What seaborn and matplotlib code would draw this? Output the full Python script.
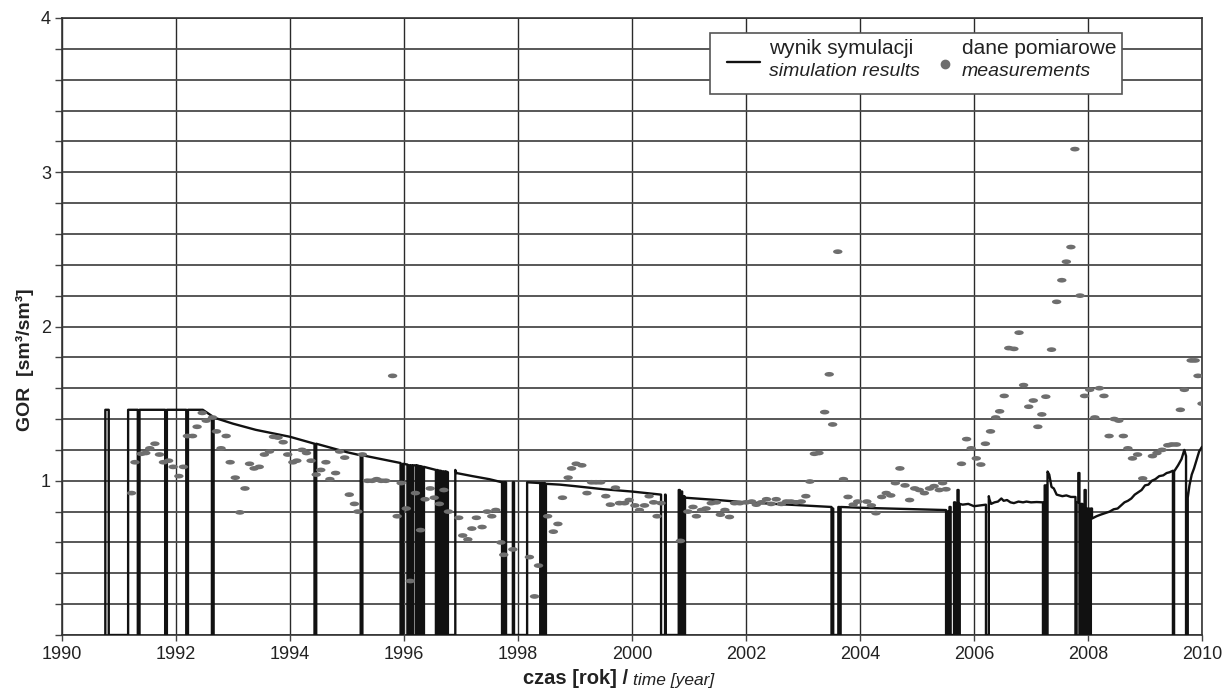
import numpy as np
import matplotlib
matplotlib.use("Agg")
import matplotlib.pyplot as plt
from matplotlib.path import Path
from matplotlib.transforms import Affine2D
from matplotlib.lines import Line2D
from matplotlib.patches import Rectangle
import matplotlib.ticker as mticker
import seaborn as sns

# ---- simulation result: (time, GOR) vertices; shut-ins drop to zero ----
sim_points = [
    (1990.76, 0.0), (1990.76, 1.46), (1990.82, 1.46), (1990.82, 0.0),
    (1991.16, 0.0), (1991.16, 1.46), (1991.33, 1.46), (1991.33, 0.0),
    (1991.36, 0.0), (1991.36, 1.46), (1991.81, 1.46), (1991.81, 0.0),
    (1991.84, 0.0), (1991.84, 1.46), (1992.18, 1.46), (1992.18, 0.0),
    (1992.21, 0.0), (1992.21, 1.46), (1992.47, 1.46), (1992.63, 1.42),
    (1992.63, 0.0), (1992.66, 0.0), (1992.66, 1.41),
    (1993.00, 1.37), (1993.40, 1.33), (1994.00, 1.285), (1994.43, 1.24),
    (1994.43, 0.0), (1994.46, 0.0), (1994.46, 1.24),
    (1995.00, 1.185), (1995.24, 1.165), (1995.24, 0.0), (1995.27, 0.0), (1995.27, 1.165),
    (1995.94, 1.115), (1995.94, 0.0), (1995.98, 0.0), (1995.98, 1.11),
    (1996.06, 1.105), (1996.06, 0.0), (1996.08, 0.0), (1996.08, 1.10),
    (1996.10, 1.10), (1996.10, 0.0), (1996.12, 0.0), (1996.12, 1.10),
    (1996.14, 1.10), (1996.14, 0.0), (1996.16, 0.0), (1996.16, 1.10),
    (1996.21, 1.10), (1996.21, 0.0), (1996.23, 0.0), (1996.23, 1.10),
    (1996.27, 1.095), (1996.27, 0.0), (1996.29, 0.0), (1996.29, 1.095),
    (1996.33, 1.09), (1996.33, 0.0), (1996.35, 0.0), (1996.35, 1.09),
    (1996.56, 1.07), (1996.56, 0.0), (1996.58, 0.0), (1996.58, 1.07),
    (1996.62, 1.065), (1996.62, 0.0), (1996.64, 0.0), (1996.64, 1.065),
    (1996.68, 1.06), (1996.68, 0.0), (1996.70, 0.0), (1996.70, 1.06),
    (1996.72, 1.06), (1996.72, 0.0), (1996.74, 0.0), (1996.74, 1.06),
    (1996.77, 1.055), (1996.77, 0.0), (1996.90, 0.0), (1996.90, 1.07), (1996.92, 1.05),
    (1997.20, 1.03), (1997.50, 1.01), (1997.72, 0.99),
    (1997.72, 0.0), (1997.74, 0.0), (1997.74, 0.99), (1997.76, 0.99), (1997.76, 0.0),
    (1997.78, 0.0), (1997.78, 0.99), (1997.79, 0.99), (1997.79, 0.0),
    (1997.91, 0.0), (1997.91, 0.99), (1997.93, 0.99), (1997.93, 0.0),
    (1998.16, 0.0), (1998.16, 0.99), (1998.39, 0.985), (1998.39, 0.0),
    (1998.41, 0.0), (1998.41, 0.985), (1998.43, 0.985), (1998.43, 0.0),
    (1998.45, 0.0), (1998.45, 0.985), (1998.47, 0.985), (1998.47, 0.0),
    (1998.49, 0.0), (1998.49, 0.98),
    (1998.73, 0.975), (1999.00, 0.965), (1999.50, 0.945), (2000.00, 0.93),
    (2000.51, 0.91), (2000.51, 0.0), (2000.58, 0.0), (2000.58, 0.91),
    (2000.59, 0.91), (2000.59, 0.0),
    (2000.82, 0.0), (2000.82, 0.94), (2000.84, 0.94), (2000.84, 0.0),
    (2000.86, 0.0), (2000.86, 0.93), (2000.88, 0.93), (2000.88, 0.0),
    (2000.90, 0.0), (2000.90, 0.90), (2000.92, 0.90), (2000.92, 0.0),
    (2000.93, 0.0), (2000.93, 0.89),
    (2001.50, 0.875), (2002.00, 0.86), (2002.50, 0.85), (2003.00, 0.84),
    (2003.50, 0.83), (2003.50, 0.0), (2003.52, 0.0), (2003.52, 0.82),
    (2003.53, 0.82), (2003.53, 0.0), (2003.62, 0.0), (2003.62, 0.83),
    (2003.64, 0.83), (2003.64, 0.0), (2003.66, 0.0), (2003.66, 0.83),
    (2004.00, 0.825), (2004.50, 0.82), (2005.00, 0.815), (2005.51, 0.81),
    (2005.51, 0.0), (2005.53, 0.0), (2005.53, 0.80), (2005.55, 0.80),
    (2005.55, 0.0), (2005.57, 0.0), (2005.57, 0.83), (2005.59, 0.83),
    (2005.59, 0.0), (2005.61, 0.0), (2005.61, 0.0),
    (2005.65, 0.0), (2005.65, 0.86), (2005.67, 0.86), (2005.67, 0.0),
    (2005.71, 0.0), (2005.71, 0.94), (2005.73, 0.94), (2005.73, 0.0),
    (2005.75, 0.0), (2005.75, 0.85),
    (2005.80, 0.845), (2005.90, 0.85), (2006.00, 0.835), (2006.10, 0.84),
    (2006.21, 0.845), (2006.21, 0.0), (2006.26, 0.0), (2006.26, 0.90),
    (2006.27, 0.88), (2006.30, 0.85),
    (2006.36, 0.86), (2006.42, 0.865), (2006.48, 0.885), (2006.52, 0.87),
    (2006.58, 0.875), (2006.64, 0.86), (2006.70, 0.855), (2006.78, 0.865),
    (2006.86, 0.86), (2006.92, 0.865), (2007.00, 0.86), (2007.10, 0.862),
    (2007.21, 0.86), (2007.21, 0.0), (2007.24, 0.0), (2007.24, 0.97),
    (2007.26, 0.97), (2007.26, 0.0), (2007.29, 0.0), (2007.29, 1.06),
    (2007.32, 1.04), (2007.36, 0.96), (2007.40, 0.95), (2007.45, 0.91),
    (2007.50, 0.905), (2007.55, 0.90), (2007.62, 0.905), (2007.70, 0.895),
    (2007.78, 0.895), (2007.78, 0.0), (2007.80, 0.0), (2007.80, 0.86),
    (2007.83, 0.86), (2007.83, 1.05), (2007.85, 1.05), (2007.85, 0.0),
    (2007.88, 0.0), (2007.88, 0.85), (2007.90, 0.85), (2007.90, 0.0),
    (2007.94, 0.0), (2007.94, 0.94), (2007.96, 0.94), (2007.96, 0.0),
    (2007.99, 0.0), (2007.99, 0.82), (2008.02, 0.82), (2008.02, 0.0),
    (2008.05, 0.0), (2008.05, 0.82), (2008.07, 0.82), (2008.07, 0.755),
    (2008.15, 0.77), (2008.22, 0.78), (2008.30, 0.79), (2008.38, 0.80),
    (2008.45, 0.815), (2008.52, 0.82), (2008.58, 0.84), (2008.64, 0.86),
    (2008.70, 0.87), (2008.76, 0.885), (2008.82, 0.91), (2008.88, 0.925),
    (2008.94, 0.94), (2009.00, 0.97), (2009.06, 0.975), (2009.12, 1.00),
    (2009.18, 1.01), (2009.25, 1.03), (2009.32, 1.035), (2009.38, 1.05),
    (2009.43, 1.055), (2009.49, 1.065), (2009.49, 0.0), (2009.51, 0.0),
    (2009.51, 1.06), (2009.58, 1.10), (2009.64, 1.14), (2009.69, 1.20),
    (2009.72, 1.16), (2009.72, 0.0), (2009.75, 0.0), (2009.75, 0.89),
    (2009.78, 0.97), (2009.82, 1.04), (2009.86, 1.08), (2009.90, 1.13),
    (2009.95, 1.19), (2010.00, 1.22),
]
sim_t = [p[0] for p in sim_points]
sim_gor = [p[1] for p in sim_points]

# ---- field measurements ----
meas_t = [
    1991.22, 1991.28, 1991.39, 1991.47, 1991.54, 1991.63, 1991.71, 1991.78,
    1991.87, 1991.95, 1992.05, 1992.13, 1992.20, 1992.29, 1992.37, 1992.46,
    1992.53, 1992.64, 1992.71, 1992.79, 1992.88, 1992.95, 1993.04, 1993.12,
    1993.21, 1993.29, 1993.37, 1993.46, 1993.55, 1993.64, 1993.71, 1993.79,
    1993.88, 1993.96, 1994.05, 1994.12, 1994.21, 1994.29, 1994.37, 1994.46,
    1994.54, 1994.63, 1994.70, 1994.80, 1994.87, 1994.96, 1995.04, 1995.13,
    1995.19, 1995.27, 1995.36, 1995.44, 1995.52, 1995.60, 1995.68, 1995.80,
    1995.88, 1995.95, 1996.04, 1996.11, 1996.20, 1996.29, 1996.37, 1996.46,
    1996.53, 1996.62, 1996.70, 1996.78, 1996.96, 1997.03, 1997.12, 1997.19,
    1997.27, 1997.37, 1997.46, 1997.54, 1997.61, 1997.70, 1997.75, 1997.91,
    1998.20, 1998.29, 1998.36, 1998.52, 1998.62, 1998.70, 1998.78, 1998.88,
    1998.94, 1999.02, 1999.12, 1999.21, 1999.29, 1999.37, 1999.45, 1999.54,
    1999.62, 1999.71, 1999.78, 1999.87, 1999.95, 2000.05, 2000.13, 2000.22,
    2000.30, 2000.38, 2000.44, 2000.51, 2000.85, 2000.98, 2001.07, 2001.13,
    2001.22, 2001.30, 2001.39, 2001.48, 2001.55, 2001.63, 2001.71, 2001.80,
    2001.89, 2002.00, 2002.10, 2002.18, 2002.27, 2002.36, 2002.44, 2002.53,
    2002.62, 2002.71, 2002.79, 2002.88, 2002.97, 2003.05, 2003.12, 2003.20,
    2003.28, 2003.38, 2003.46, 2003.52, 2003.61, 2003.71, 2003.79, 2003.88,
    2003.96, 2004.12, 2004.20, 2004.28, 2004.38, 2004.46, 2004.54, 2004.62,
    2004.70, 2004.79, 2004.87, 2004.96, 2005.04, 2005.13, 2005.22, 2005.30,
    2005.39, 2005.45, 2005.51, 2005.78, 2005.87, 2005.95, 2006.04, 2006.12,
    2006.20, 2006.29, 2006.38, 2006.45, 2006.53, 2006.61, 2006.70, 2006.79,
    2006.87, 2006.96, 2007.04, 2007.12, 2007.19, 2007.26, 2007.36, 2007.45,
    2007.54, 2007.62, 2007.70, 2007.77, 2007.86, 2007.94, 2008.03, 2008.12,
    2008.20, 2008.28, 2008.37, 2008.46, 2008.54, 2008.62, 2008.70, 2008.78,
    2008.87, 2008.96, 2009.13, 2009.21, 2009.30, 2009.40, 2009.47, 2009.55,
    2009.62, 2009.69, 2009.81, 2009.88, 2009.93, 2010.00,
]
meas_gor = [
    0.92, 1.12, 1.175, 1.18, 1.21, 1.24, 1.17, 1.12,
    1.13, 1.09, 1.03, 1.09, 1.29, 1.29, 1.35, 1.44,
    1.39, 1.41, 1.32, 1.21, 1.29, 1.12, 1.02, 0.795,
    0.95, 1.11, 1.08, 1.09, 1.17, 1.19, 1.285, 1.28,
    1.25, 1.17, 1.12, 1.13, 1.20, 1.18, 1.13, 1.04,
    1.07, 1.12, 1.01, 1.05, 1.19, 1.15, 0.91, 0.85,
    0.80, 1.17, 1.00, 1.00, 1.01, 1.00, 1.00, 1.68,
    0.77, 0.985, 0.82, 0.35, 0.92, 0.68, 0.88, 0.95,
    0.89, 0.85, 0.94, 0.80, 0.76, 0.645, 0.62, 0.69,
    0.76, 0.70, 0.80, 0.77, 0.81, 0.60, 0.52, 0.555,
    0.505, 0.25, 0.45, 0.77, 0.67, 0.72, 0.89, 1.02,
    1.08, 1.11, 1.10, 0.92, 0.99, 0.99, 0.99, 0.90,
    0.845, 0.955, 0.855, 0.855, 0.875, 0.84, 0.81, 0.84,
    0.90, 0.86, 0.77, 0.855, 0.61, 0.80, 0.83, 0.77,
    0.81, 0.82, 0.855, 0.86, 0.78, 0.81, 0.765, 0.855,
    0.855, 0.86, 0.865, 0.845, 0.86, 0.88, 0.85, 0.88,
    0.85, 0.865, 0.865, 0.86, 0.865, 0.90, 0.995, 1.175,
    1.18, 1.445, 1.69, 1.365, 2.485, 1.01, 0.895, 0.845,
    0.865, 0.865, 0.84, 0.79, 0.895, 0.92, 0.905, 0.985,
    1.08, 0.97, 0.875, 0.95, 0.94, 0.92, 0.95, 0.965,
    0.94, 0.985, 0.945, 1.11, 1.27, 1.21, 1.145, 1.105,
    1.24, 1.32, 1.41, 1.45, 1.55, 1.86, 1.855, 1.96,
    1.62, 1.48, 1.52, 1.35, 1.43, 1.545, 1.85, 2.16,
    2.30, 2.42, 2.515, 3.15, 2.20, 1.55, 1.59, 1.41,
    1.60, 1.55, 1.29, 1.40, 1.39, 1.29, 1.21, 1.145,
    1.17, 1.015, 1.16, 1.18, 1.20, 1.23, 1.235, 1.235,
    1.46, 1.59, 1.78, 1.78, 1.68, 1.50,
]

x_ticks = [1990, 1992, 1994, 1996, 1998, 2000, 2002, 2004, 2006, 2008, 2010]
y_labels = [1, 2, 3, 4]

sns.set_theme(style="white")
plt.rcParams["font.family"] = ["Liberation Sans", "DejaVu Sans"]

W, H = 1227, 690
fig = plt.figure(figsize=(W / 100, H / 100), dpi=100)
ax = fig.add_axes([62 / W, 1 - 635 / H, (1202 - 62) / W, (635 - 18) / H])


def fx(px):
    return px / W


def fy(py):
    return 1 - py / H


ax.set_xlim(1990, 2010)
ax.set_ylim(0, 4)

# grid
ax.set_axisbelow(True)
ax.xaxis.set_major_locator(mticker.FixedLocator(x_ticks))
ax.yaxis.set_major_locator(mticker.FixedLocator(np.round(np.arange(0, 4.01, 0.2), 2)))
ax.yaxis.set_major_formatter(mticker.FuncFormatter(
    lambda v, _: str(int(round(v))) if abs(v - round(v)) < 1e-6 and round(v) in y_labels else ""))
ax.grid(True, axis="y", color="#4a4a4a", linewidth=1.3)
ax.grid(True, axis="x", color="#2a2a2a", linewidth=1.0)
for s in ax.spines.values():
    s.set_color("#333333")
    s.set_linewidth(1.2)

ax.tick_params(axis="y", which="major", direction="out", length=5, width=1.0,
               color="#444444", labelsize=13, labelcolor="#222222", pad=3, left=True)
ax.tick_params(axis="x", which="major", direction="out", length=4, width=1.0,
               color="#444444", labelsize=13, labelcolor="#222222", pad=4, bottom=True)

# simulation line
sns.lineplot(x=sim_t, y=sim_gor, sort=False, estimator=None, color="#111111",
             linewidth=1.7, ax=ax, zorder=3)

# measurement dashes
dash = Affine2D().scale(1.0, 0.5).transform_path(Path.unit_circle())
sns.scatterplot(x=meas_t, y=meas_gor, marker=dash, s=46, color="#6e6e6e",
                edgecolor="none", linewidth=0, ax=ax, zorder=4)

ax.set_xlabel("")
ax.set_ylabel("")

# axis titles
fig.text(fx(25), fy(360), "GOR  [sm³/sm³]", rotation=90, ha="center", va="center",
         fontsize=14, fontweight="bold", color="#222222")
fig.text(fx(628), fy(679), "czas [rok] /", ha="right", va="center",
         fontsize=14.5, fontweight="bold", color="#222222")
fig.text(fx(633), fy(680), "time [year]", ha="left", va="center",
         fontsize=12.5, style="italic", color="#222222")

# legend box
fig.patches.append(Rectangle((fx(710), fy(94)), fx(1122) - fx(710), fy(33) - fy(94),
                             transform=fig.transFigure, facecolor="white",
                             edgecolor="#555555", linewidth=1.2, zorder=10))
fig.lines.append(Line2D([fx(727), fx(760)], [fy(62), fy(62)], transform=fig.transFigure,
                        color="#111111", linewidth=1.7, zorder=11))
fig.lines.append(Line2D([fx(945)], [fy(64)], transform=fig.transFigure, marker="o",
                        markersize=6, color="#6e6e6e", linestyle="none", zorder=11))
fig.text(fx(769), fy(48), "wynik symulacji", ha="left", va="center", fontsize=15,
         color="#222222", zorder=12)
fig.text(fx(769), fy(72), "simulation results", ha="left", va="center", fontsize=14,
         style="italic", color="#222222", zorder=12)
fig.text(fx(962), fy(48), "dane pomiarowe", ha="left", va="center", fontsize=15,
         color="#222222", zorder=12)
fig.text(fx(962), fy(72), "measurements", ha="left", va="center", fontsize=14,
         style="italic", color="#222222", zorder=12)

fig.savefig("out.png", dpi=100, facecolor="white")
